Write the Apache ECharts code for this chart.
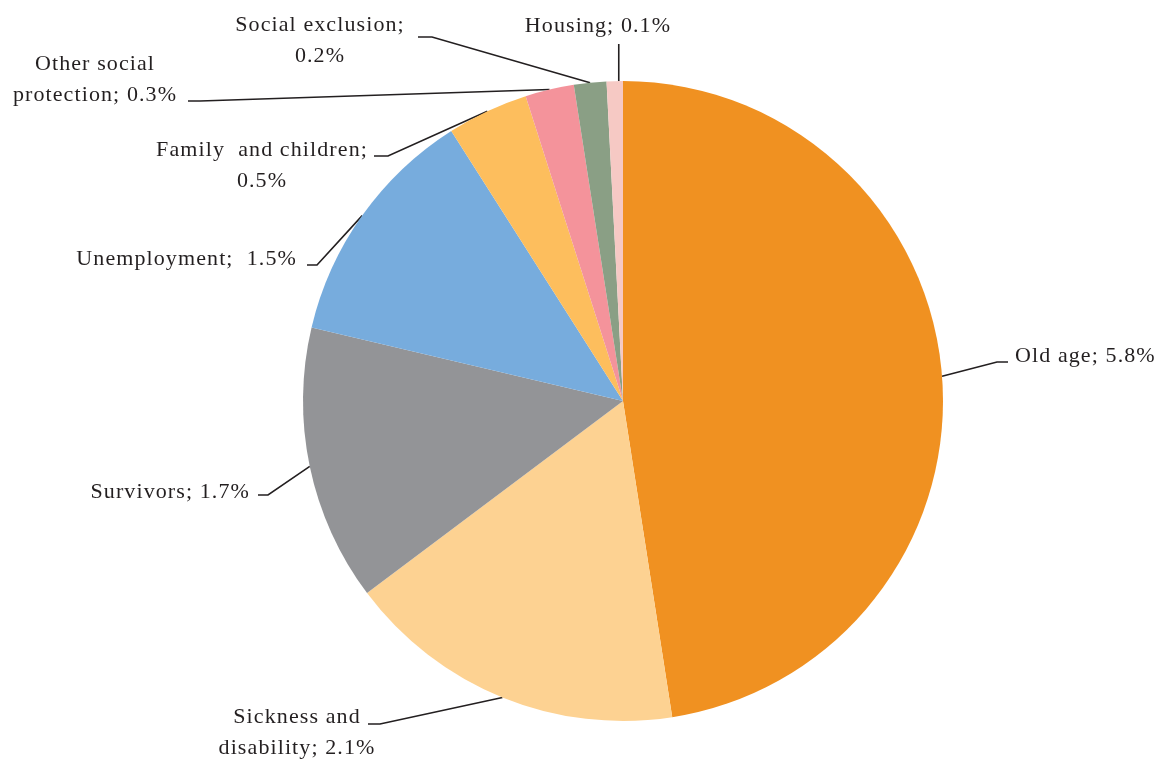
<!DOCTYPE html>
<html>
<head>
<meta charset="utf-8">
<script src="https://cdn.jsdelivr.net/npm/echarts@6/dist/echarts.min.js"></script>
<style>
html,body{margin:0;padding:0;background:#fff;}
#chart{width:1161px;height:762px;}
</style>
</head>
<body>
<div id="chart"></div>
<script>
// Data
const categories = ['Old age', 'Sickness and disability', 'Survivors', 'Unemployment',
  'Family and children', 'Other social protection', 'Social exclusion', 'Housing'];
const values = [5.8, 2.1, 1.7, 1.5, 0.5, 0.3, 0.2, 0.1];
const labelTexts = ['Old age; 5.8%', 'Sickness and\ndisability; 2.1%', 'Survivors; 1.7%',
  'Unemployment;  1.5%', 'Family  and children;\n0.5%', 'Other social\nprotection; 0.3%',
  'Social exclusion;\n0.2%', 'Housing; 0.1%'];
const colors = ['#F09121', '#FDD292', '#939497', '#77ACDD', '#FDBE5D', '#F4939B', '#8A9F85', '#F6C9C4'];

// Label placement (layout only)
const labelAnchor = [
  [1015, 356, 'left'], [297, 733, 'center'], [250, 492, 'right'], [297, 259, 'right'],
  [262, 166, 'center'], [95, 80, 'center'], [320, 41, 'center'], [598, 26, 'center']
];
const lineElbow = [
  [997, 362, 1008], [380, 724, 368], [268, 495, 258], [317, 265, 307],
  [388, 156, 374], [200, 101, 188], [432, 37, 418], [null, 44, null]
];

// slightly tracked text like the reference
(function () {
  const proto = CanvasRenderingContext2D.prototype;
  const orig = proto.fillText;
  proto.fillText = function () {
    if ('letterSpacing' in this) this.letterSpacing = '1.1px';
    return orig.apply(this, arguments);
  };
})();

const chart = echarts.init(document.getElementById('chart'), null, {renderer: 'canvas'});
chart.setOption({
  animation: false,
  backgroundColor: '#ffffff',
  series: [{
    type: 'pie',
    center: [623, 401],
    radius: 320,
    startAngle: 90,
    clockwise: true,
    avoidLabelOverlap: false,
    data: categories.map((c, i) => ({name: c, value: values[i], itemStyle: {color: colors[i]}})),
    itemStyle: {borderWidth: 0},
    label: {
      show: true,
      position: 'outside',
      formatter: p => labelTexts[p.dataIndex],
      fontFamily: '"Liberation Serif", serif',
      fontSize: 22,
      lineHeight: 31,
      color: '#231f20'
    },
    labelLine: {
      show: true, length: 10, length2: 10,
      lineStyle: {color: '#231f20', width: 1.6}
    },
    labelLayout: function (params) {
      const i = params.dataIndex;
      const a = labelAnchor[i];
      const e = lineElbow[i];
      const start = params.labelLinePoints ? params.labelLinePoints[0] : [0, 0];
      let pts;
      if (e[0] === null) {
        const sx = start[0] + 4;
        pts = [[sx, start[1]], [sx, e[1]], [sx, e[1]]];
      } else {
        pts = [start, [e[0], e[1]], [e[2], e[1]]];
      }
      return {
        x: a[0], y: a[1], align: a[2], verticalAlign: 'middle',
        labelLinePoints: pts
      };
    }
  }]
});
</script>
</body>
</html>
